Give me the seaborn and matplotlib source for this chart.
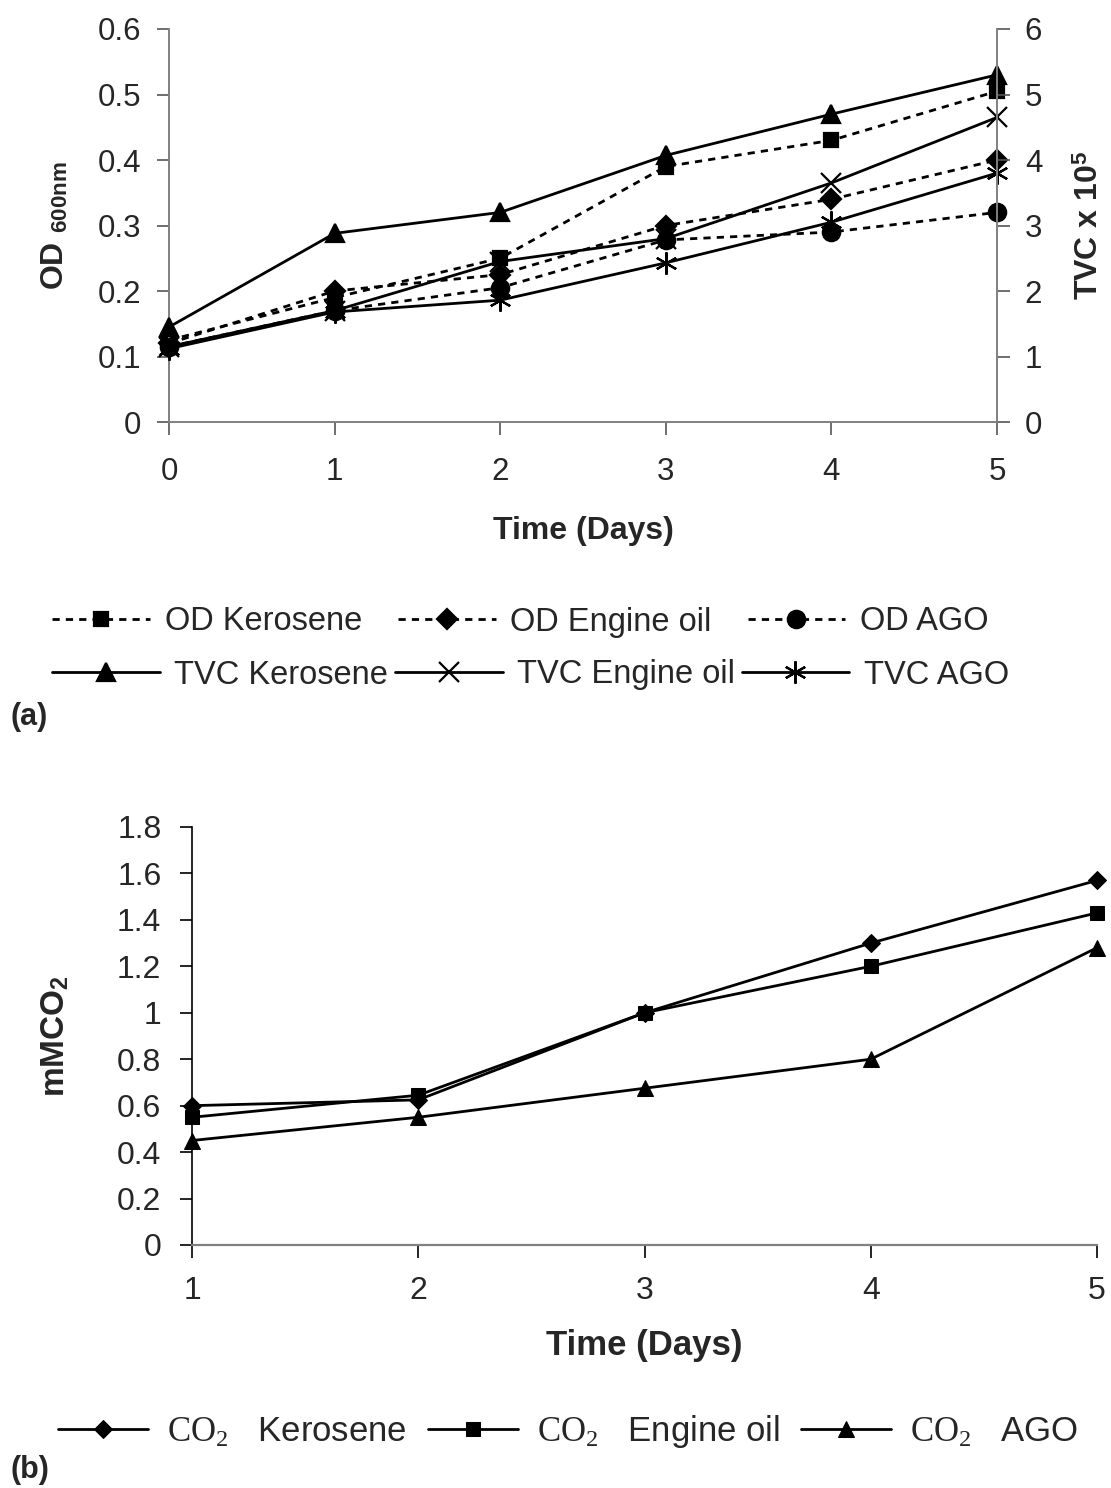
import numpy as np
import pandas as pd
import matplotlib
matplotlib.use("Agg")
import matplotlib.pyplot as plt
import seaborn as sns

# Panel (a): OD and TVC over time
days_a = [0, 1, 2, 3, 4, 5]
od_kerosene = [0.125, 0.19, 0.25, 0.39, 0.43, 0.505]
od_engine_oil = [0.12, 0.2, 0.225, 0.3, 0.34, 0.4]
od_ago = [0.115, 0.17, 0.205, 0.278, 0.29, 0.32]
tvc_kerosene = [1.45, 2.88, 3.2, 4.07, 4.7, 5.3]
tvc_engine_oil = [1.15, 1.7, 2.45, 2.8, 3.65, 4.65]
tvc_ago = [1.12, 1.68, 1.86, 2.43, 3.05, 3.8]
od_ticks = [0, 0.1, 0.2, 0.3, 0.4, 0.5, 0.6]
tvc_ticks = [0, 1, 2, 3, 4, 5, 6]

# Panel (b): CO2 evolution
days_b = [1, 2, 3, 4, 5]
co2_kerosene = [0.6, 0.625, 1.0, 1.3, 1.57]
co2_engine_oil = [0.55, 0.645, 1.0, 1.2, 1.43]
co2_ago = [0.45, 0.55, 0.675, 0.8, 1.28]
co2_ticks = [0, 0.2, 0.4, 0.6, 0.8, 1.0, 1.2, 1.4, 1.6, 1.8]

sns.set_style("white")
plt.rcParams['font.family'] = ['Liberation Sans', 'DejaVu Sans']
plt.rcParams['mathtext.fontset'] = 'custom'
plt.rcParams['mathtext.rm'] = 'Liberation Serif'
plt.rcParams['mathtext.it'] = 'Liberation Serif:italic'
plt.rcParams['mathtext.bf'] = 'Liberation Sans:bold'
plt.rcParams['mathtext.sf'] = 'Liberation Sans'

W, H = 1111, 1488
fig = plt.figure(figsize=(W / 100, H / 100), dpi=100)

dotted = (0, (2.6, 2.2))
lw = 2
gray = '#808080'

# ---------- panel (a) ----------
ax = fig.add_axes([169 / W, 1 - 422 / H, (997 - 169) / W, (422 - 29) / H])
ax2 = ax.twinx()

od_series = [(od_kerosene, 's', 9.5, 'OD Kerosene'),
             (od_engine_oil, 'D', 10, 'OD Engine oil'),
             (od_ago, 'o', 12.5, 'OD AGO')]
tvc_series = [(tvc_kerosene, '^', 12.5, 'TVC Kerosene'),
              (tvc_engine_oil, 'x', 15, 'TVC Engine oil'),
              (tvc_ago, (6, 2, 0), 16, 'TVC AGO')]

for vals, mk, ms, lab in od_series:
    sns.lineplot(x=days_a, y=vals, ax=ax, color='black', linestyle=dotted,
                 linewidth=lw, marker=mk, markersize=ms, markeredgewidth=1.6,
                 markeredgecolor='black', markerfacecolor='black',
                 label=lab, legend=False, clip_on=False)
for vals, mk, ms, lab in tvc_series:
    sns.lineplot(x=days_a, y=vals, ax=ax2, color='black', linestyle='-',
                 linewidth=lw, marker=mk, markersize=ms, markeredgewidth=1.6,
                 markeredgecolor='black', markerfacecolor='black',
                 label=lab, legend=False, clip_on=False)

ax.set_xlim(0, 5)
ax.set_ylim(0, 0.6)
ax2.set_ylim(0, 6)
ax.set_xticks(days_a)
ax.set_yticks(od_ticks)
ax.set_yticklabels(['{:g}'.format(t) for t in od_ticks])
ax2.set_yticks(tvc_ticks)
ax2.set_yticklabels(['{:g}'.format(t) for t in tvc_ticks])

for a in (ax, ax2):
    for s in a.spines.values():
        s.set_visible(False)
ax.spines['left'].set_visible(True)
ax.spines['bottom'].set_visible(True)
ax2.spines['right'].set_visible(True)
for s in (ax.spines['left'], ax.spines['bottom'], ax2.spines['right']):
    s.set_color(gray)
    s.set_linewidth(1.4)

ax.tick_params(axis='y', direction='out', length=9, width=1.2, color='#555555',
               labelsize=22.5, pad=11, left=True)
ax.tick_params(axis='x', direction='out', length=9, width=1.2, color='#555555',
               labelsize=22.5, pad=16, bottom=True)
ax2.tick_params(axis='y', direction='out', length=9, width=1.2, color='#555555',
                labelsize=22.5, pad=11, right=True)
ax.grid(False)
ax2.grid(False)

ax.set_xlabel('Time (Days)', fontsize=23, fontweight='bold')
ax.xaxis.set_label_coords(0.5, -(531 - 422) / (422 - 29))
ax.xaxis.label.set_va('center')
ax.set_ylabel(r'OD $_{\mathbf{600nm}}$', fontsize=23, fontweight='bold')
ax.yaxis.set_label_coords((55 - 169) / (997 - 169), 0.5)
ax.yaxis.label.set_va('center')
ax2.set_ylabel(r'TVC x 10$^{\mathbf{5}}$', fontsize=23, fontweight='bold')
ax2.yaxis.set_label_coords((1090 - 169) / (997 - 169), 0.5)
ax2.yaxis.label.set_va('center')

h1, l1 = ax.get_legend_handles_labels()
h2, l2 = ax2.get_legend_handles_labels()
fig.legend(h1, l1, ncol=3, frameon=False, fontsize=23.5,
           loc='center left', bbox_to_anchor=(52 / W, 1 - 622 / H),
           borderpad=0, borderaxespad=0, handlelength=3.0,
           handletextpad=0.45, columnspacing=1.1)
fig.legend(h2, l2, ncol=3, frameon=False, fontsize=23.5,
           loc='center left', bbox_to_anchor=(52 / W, 1 - 675 / H),
           borderpad=0, borderaxespad=0, handlelength=3.3,
           handletextpad=0.45, columnspacing=0.2)
fig.text(10 / W, 1 - 717 / H, '(a)', fontsize=22, fontweight='bold',
         ha='left', va='center')

# ---------- panel (b) ----------
bx = fig.add_axes([192 / W, 1 - 1245 / H, (1097 - 192) / W, (1245 - 827) / H])
co2_series = [(co2_kerosene, 'D', 9.5, r'$\mathrm{CO_2}$   Kerosene'),
              (co2_engine_oil, 's', 10, r'$\mathrm{CO_2}$   Engine oil'),
              (co2_ago, '^', 12, r'$\mathrm{CO_2}$   AGO')]
for vals, mk, ms, lab in co2_series:
    sns.lineplot(x=days_b, y=vals, ax=bx, color='black', linestyle='-',
                 linewidth=lw, marker=mk, markersize=ms,
                 markeredgecolor='black', markerfacecolor='black',
                 label=lab, legend=False, clip_on=False)

bx.set_xlim(1, 5)
bx.set_ylim(0, 1.8)
bx.set_xticks(days_b)
bx.set_yticks(co2_ticks)
bx.set_yticklabels(['{:g}'.format(t) for t in co2_ticks])
for s in bx.spines.values():
    s.set_visible(False)
bx.spines['left'].set_visible(True)
bx.spines['left'].set_color('black')
bx.spines['left'].set_linewidth(1.2)
bx.spines['bottom'].set_visible(True)
bx.spines['bottom'].set_color(gray)
bx.spines['bottom'].set_linewidth(1.6)
bx.tick_params(axis='both', direction='out', length=9, width=1.2, color='black',
               labelsize=23, left=True, bottom=True)
bx.tick_params(axis='y', pad=13)
bx.tick_params(axis='x', pad=13)
bx.grid(False)

bx.set_xlabel('Time (Days)', fontsize=25, fontweight='bold')
bx.xaxis.set_label_coords(0.5, -(1346 - 1245) / (1245 - 827))
bx.xaxis.label.set_va('center')
bx.set_ylabel(r'mMCO$_{\mathbf{2}}$', fontsize=24, fontweight='bold')
bx.yaxis.set_label_coords((55 - 192) / (1097 - 192), 0.5)
bx.yaxis.label.set_va('center')

hb, lb = bx.get_legend_handles_labels()
fig.legend(hb, lb, ncol=3, frameon=False, fontsize=25,
           loc='center left', bbox_to_anchor=(58 / W, 1 - 1432 / H),
           borderpad=0, borderaxespad=0, handlelength=2.6,
           handletextpad=0.55, columnspacing=0.6)
fig.text(10 / W, 1 - 1470 / H, '(b)', fontsize=22, fontweight='bold',
         ha='left', va='center')

fig.savefig('out.png', dpi=100)
